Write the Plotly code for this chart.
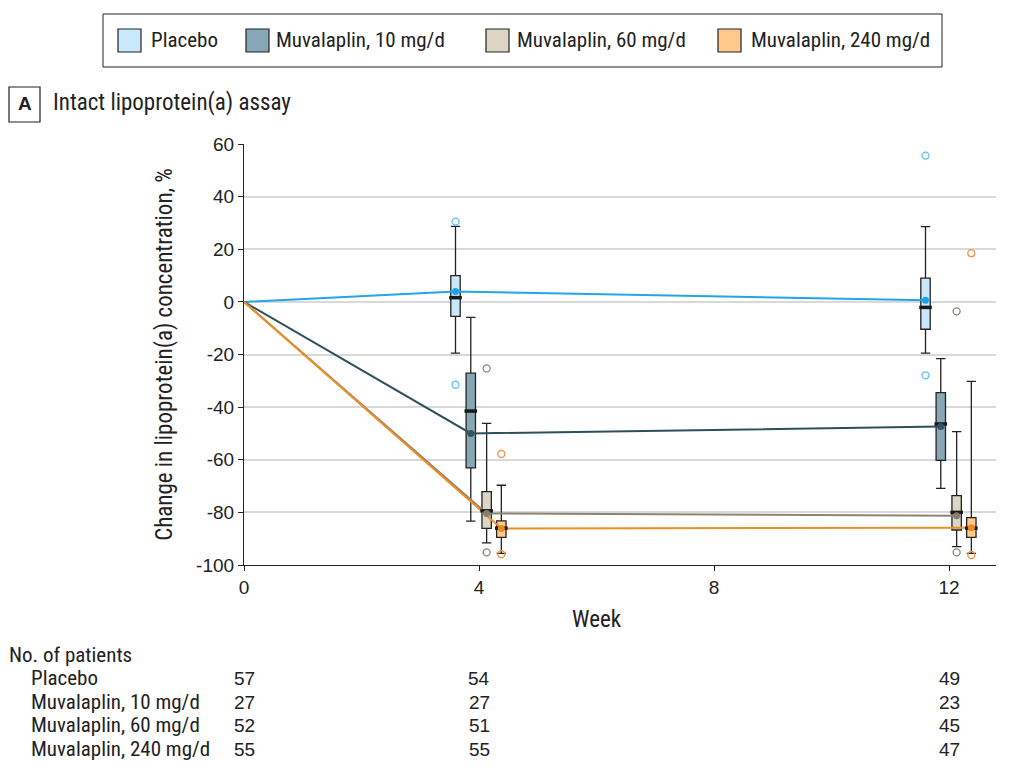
import plotly.graph_objects as go

# ---------------- data ----------------
weeks = [4, 12]
groups = ["Placebo", "Muvalaplin, 10 mg/d", "Muvalaplin, 60 mg/d", "Muvalaplin, 240 mg/d"]

q1 = {
    "Placebo": [-5.5, -10.4],
    "Muvalaplin, 10 mg/d": [-63.1, -60.2],
    "Muvalaplin, 60 mg/d": [-86.1, -86.7],
    "Muvalaplin, 240 mg/d": [-89.5, -89.5],
}
median = {
    "Placebo": [1.6, -2.1],
    "Muvalaplin, 10 mg/d": [-41.5, -46.4],
    "Muvalaplin, 60 mg/d": [-79.4, -80.0],
    "Muvalaplin, 240 mg/d": [-86.0, -86.0],
}
q3 = {
    "Placebo": [10.0, 9.0],
    "Muvalaplin, 10 mg/d": [-27.1, -34.5],
    "Muvalaplin, 60 mg/d": [-72.1, -73.6],
    "Muvalaplin, 240 mg/d": [-83.2, -82.0],
}
lower_whisker = {
    "Placebo": [-19.5, -19.5],
    "Muvalaplin, 10 mg/d": [-83.3, -70.9],
    "Muvalaplin, 60 mg/d": [-91.6, -93.0],
    "Muvalaplin, 240 mg/d": [-95.6, -95.6],
}
upper_whisker = {
    "Placebo": [28.7, 28.6],
    "Muvalaplin, 10 mg/d": [-5.9, -21.6],
    "Muvalaplin, 60 mg/d": [-46.2, -49.3],
    "Muvalaplin, 240 mg/d": [-69.7, -30.2],
}
mean = {
    "Placebo": [3.9, 0.6],
    "Muvalaplin, 10 mg/d": [-50.0, -47.4],
    "Muvalaplin, 60 mg/d": [-80.4, -81.3],
    "Muvalaplin, 240 mg/d": [-86.1, -85.8],
}
outliers_week4 = {
    "Placebo": [30.5, -31.5],
    "Muvalaplin, 10 mg/d": [],
    "Muvalaplin, 60 mg/d": [-25.3, -95.2],
    "Muvalaplin, 240 mg/d": [-57.8, -95.9],
}
outliers_week12 = {
    "Placebo": [55.6, -27.9],
    "Muvalaplin, 10 mg/d": [],
    "Muvalaplin, 60 mg/d": [-3.6, -95.2],
    "Muvalaplin, 240 mg/d": [18.5, -96.2],
}
baseline_week = 0
baseline_value = 0

x_ticks = [0, 4, 8, 12]
y_ticks = [-100, -80, -60, -40, -20, 0, 20, 40, 60]
y_tick_labels = ["-100", "-80", "-60", "-40", "-20", "0", "20", "40", "60"]

table_weeks = [0, 4, 12]
patients = {
    "Placebo": [57, 54, 49],
    "Muvalaplin, 10 mg/d": [27, 27, 23],
    "Muvalaplin, 60 mg/d": [52, 51, 45],
    "Muvalaplin, 240 mg/d": [55, 55, 47],
}

# ---------------- styles ----------------
offsets = [-0.40, -0.14, 0.13, 0.38]
line_colors = ["#22A6E6", "#2F4F5C", "#8C8576", "#EE8F22"]
fill_colors = ["#C9E9FA", "#88A7B6", "#DCD5C5", "#FFC98A"]
mean_colors = ["#1AA3E8", "#2F5563", "#867F71", "#E88B25"]
out_colors = ["#5BC3EE", "#2F5563", "#8C877C", "#EE9040"]
NARROW = "Liberation Sans Narrow, Arial Narrow, Roboto Condensed, sans-serif"
REG = "Liberation Sans, Arial, sans-serif"
TXT = "#222222"
BOX_W = 0.16

fig = go.Figure()

# mean lines (below boxes)
for i, g in enumerate(groups):
    xs = [baseline_week] + [w + offsets[i] for w in weeks]
    ys = [baseline_value] + mean[g]
    fig.add_trace(go.Scatter(x=xs, y=ys, mode="lines",
                             line=dict(color=line_colors[i], width=2),
                             showlegend=False, hoverinfo="skip"))

# boxes
for i, g in enumerate(groups):
    xs = [w + offsets[i] for w in weeks]
    fig.add_trace(go.Box(
        x=xs, q1=q1[g], median=median[g], q3=q3[g],
        lowerfence=lower_whisker[g], upperfence=upper_whisker[g],
        width=BOX_W, whiskerwidth=1, fillcolor=fill_colors[i],
        line=dict(color="#222222", width=1.3), boxpoints=False,
        showlegend=False, hoverinfo="skip", name=g))
    fig.add_trace(go.Scatter(
        x=xs, y=median[g], mode="markers",
        marker=dict(symbol="line-ew", size=9, line=dict(color="#1a1a1a", width=3.5)),
        showlegend=False, hoverinfo="skip"))
    fig.add_trace(go.Scatter(
        x=xs, y=mean[g], mode="markers",
        marker=dict(symbol="circle", size=7, color=mean_colors[i]),
        showlegend=False, hoverinfo="skip"))
    ox = [weeks[0] + offsets[i]] * len(outliers_week4[g]) + [weeks[1] + offsets[i]] * len(outliers_week12[g])
    oy = outliers_week4[g] + outliers_week12[g]
    if oy:
        fig.add_trace(go.Scatter(
            x=ox, y=oy, mode="markers",
            marker=dict(symbol="circle-open", size=7, color=out_colors[i], line=dict(width=1.3)),
            showlegend=False, hoverinfo="skip"))

# ---------------- layout ----------------
W, H = 1004, 760          # page has an 8px body margin
L, R, T, B = 236, 16, 136, 203
plot_w = W - L - R
plot_h = H - T - B
OFF = 8

def px_x(px):
    return (px - OFF - L) / plot_w

def px_y(py):
    return (H - B - (py - OFF)) / plot_h

shapes = []
annotations = []

# manual legend
shapes.append(dict(type="rect", xref="paper", yref="paper",
                   x0=px_x(103), x1=px_x(942), y0=px_y(67), y1=px_y(14),
                   line=dict(color=TXT, width=1), fillcolor="white"))
sw_x = [118, 246, 486, 718]
tx_x = [149, 274, 515, 749]
for i, g in enumerate(groups):
    shapes.append(dict(type="rect", xref="paper", yref="paper",
                       x0=px_x(sw_x[i]), x1=px_x(sw_x[i] + 23), y0=px_y(52), y1=px_y(29),
                       line=dict(color=TXT, width=1.2), fillcolor=fill_colors[i]))
    annotations.append(dict(xref="paper", yref="paper", x=px_x(tx_x[i]), y=px_y(40),
                            text=g, showarrow=False, font=dict(family=NARROW, size=21, color=TXT),
                            xanchor="left", yanchor="middle"))

# panel label
shapes.append(dict(type="rect", xref="paper", yref="paper",
                   x0=px_x(9), x1=px_x(40), y0=px_y(122), y1=px_y(87),
                   line=dict(color=TXT, width=1.2), fillcolor="white"))
annotations.append(dict(xref="paper", yref="paper", x=px_x(24.5), y=px_y(104), text="<b>A</b>",
                        showarrow=False, font=dict(family=REG, size=19, color=TXT),
                        xanchor="center", yanchor="middle"))
annotations.append(dict(xref="paper", yref="paper", x=px_x(51), y=px_y(103),
                        text="Intact lipoprotein(a) assay", showarrow=False,
                        font=dict(family=NARROW, size=23, color=TXT), xanchor="left", yanchor="middle"))
# x axis title
annotations.append(dict(xref="x", yref="paper", x=6, y=px_y(619), text="Week",
                        showarrow=False, font=dict(family=NARROW, size=23, color=TXT),
                        xanchor="center", yanchor="middle"))
# patient table
annotations.append(dict(xref="paper", yref="paper", x=px_x(7), y=px_y(655),
                        text="No. of patients", showarrow=False,
                        font=dict(family=NARROW, size=21, color=TXT), xanchor="left", yanchor="middle"))
row_y = [678, 702, 725, 749]
for r, g in enumerate(groups):
    annotations.append(dict(xref="paper", yref="paper", x=px_x(29), y=px_y(row_y[r]),
                            text=g, showarrow=False, font=dict(family=NARROW, size=21, color=TXT),
                            xanchor="left", yanchor="middle"))
    for c, w in enumerate(table_weeks):
        annotations.append(dict(xref="x", yref="paper", x=w, y=px_y(row_y[r]),
                                text=str(patients[g][c]), showarrow=False,
                                font=dict(family=REG, size=19, color=TXT),
                                xanchor="center", yanchor="middle"))

fig.update_layout(
    width=W, height=H,
    margin=dict(l=L, r=R, t=T, b=B, pad=0),
    paper_bgcolor="white", plot_bgcolor="white",
    font=dict(family=REG, size=19, color=TXT),
    boxmode="overlay",
    showlegend=False,
    shapes=shapes,
    annotations=annotations,
    xaxis=dict(range=[0, 12.8], tickvals=x_ticks, ticks="outside", ticklen=5,
               tickcolor=TXT, showline=True, linecolor=TXT, linewidth=1.2,
               showgrid=False, zeroline=False, tickfont=dict(family=REG, size=19)),
    yaxis=dict(range=[-100, 60], tickvals=y_ticks, ticktext=y_tick_labels, ticks="outside",
               ticklen=5, tickcolor=TXT, showline=True, linecolor=TXT, linewidth=1.2,
               showgrid=True, gridcolor="#d9d9d9", gridwidth=2, zeroline=False,
               tickfont=dict(family=REG, size=19),
               title=dict(text="Change in lipoprotein(a) concentration, %",
                          font=dict(family=NARROW, size=23), standoff=17)),
)

fig.write_html("out.html")
